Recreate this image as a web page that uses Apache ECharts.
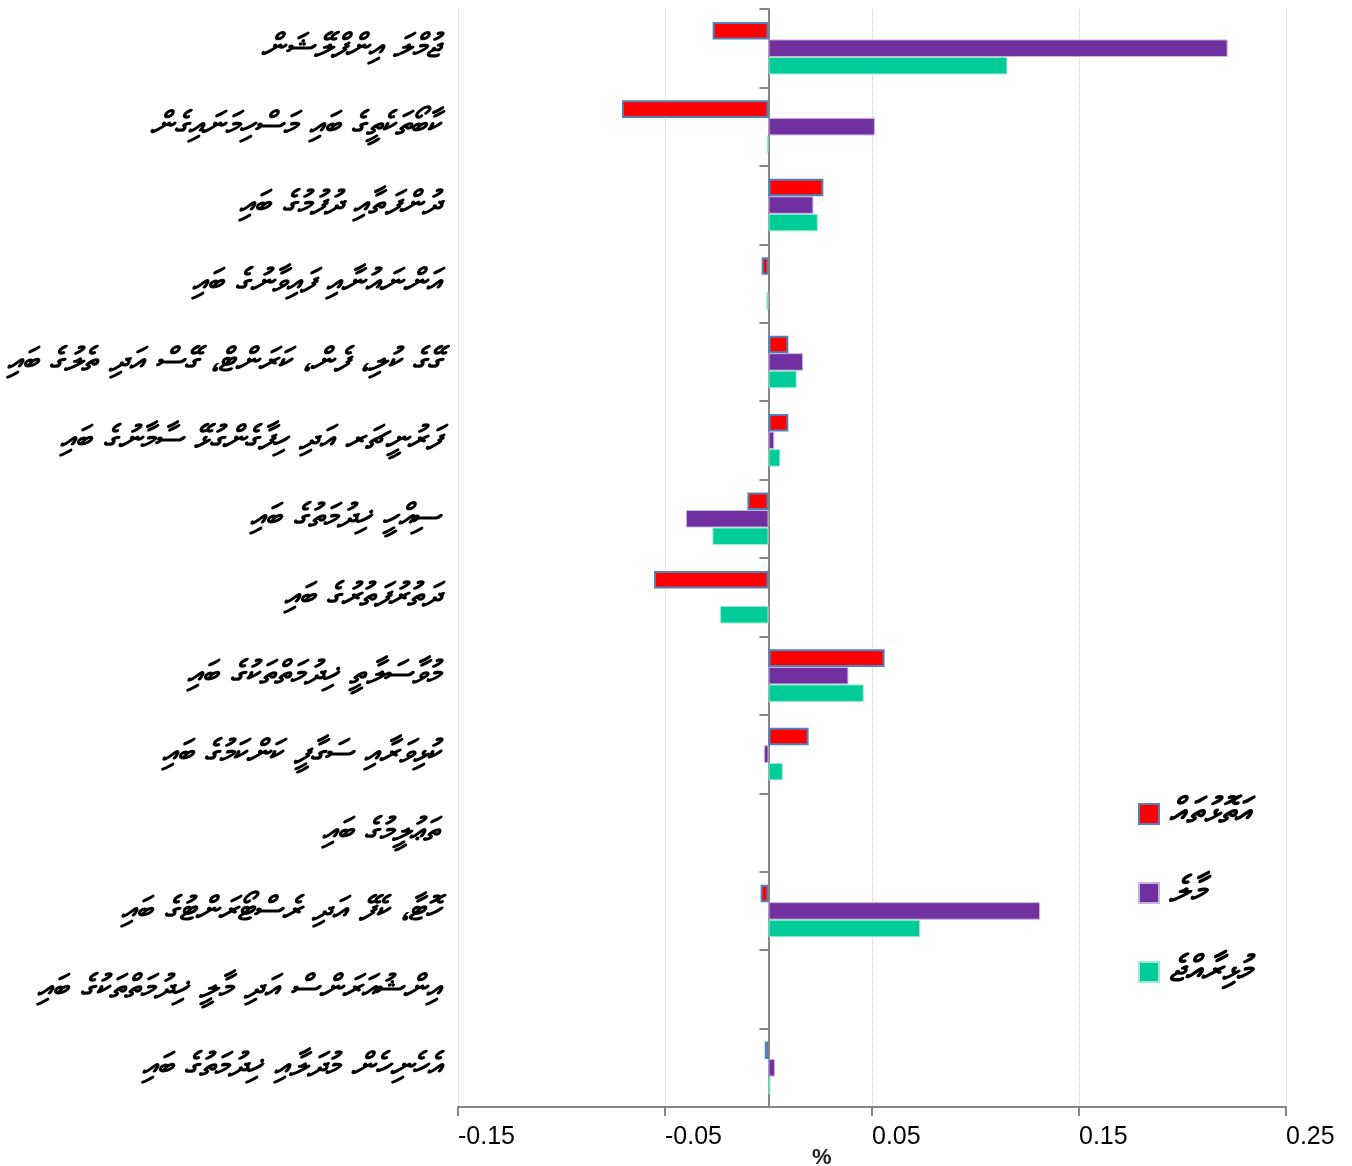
<!DOCTYPE html>
<html><head><meta charset="utf-8">
<script src="https://cdn.jsdelivr.net/npm/echarts@6/dist/echarts.min.js"></script>
<style>html,body{margin:0;padding:0;background:#fff}#c{width:1352px;height:1166px}</style>
</head><body><div id="c"></div>
<script>
// categories, top to bottom
const categories = [
  "ޖުމްލަ އިންފްލޭޝަން",
  "ކާބޯތަކެތީގެ ބައި މަސްހިމަނައިގެން",
  "ދުންފަތާއި ދުފުމުގެ ބައި",
  "އަންނައުނާއި ފައިވާނުގެ ބައި",
  "ގޭގެ ކުލި، ފެން، ކަރަންޓް، ގޭސް އަދި ތެލުގެ ބައި",
  "ފަރުނީޗަރ އަދި ހިފާގެންގުޅޭ ސާމާނުގެ ބައި",
  "ސިއްހީ ޚިދުމަތުގެ ބައި",
  "ދަތުރުފަތުރުގެ ބައި",
  "މުވާސަލާތީ ޚިދުމަތްތަކުގެ ބައި",
  "ކުޅިވަރާއި ސަގާފީ ކަންކަމުގެ ބައި",
  "ތަޢުލީމުގެ ބައި",
  "ހޮޓާ، ކެފޭ އަދި ރެސްޓޯރަންޓުގެ ބައި",
  "އިންޝުއަރަންސް އަދި މާލީ ޚިދުމަތްތަކުގެ ބައި",
  "އެހެނިހެން މުދަލާއި ޚިދުމަތުގެ ބައި"
];
const seriesNames = ["އަތޮޅުތައް", "މާލެ", "މުޅިރާއްޖެ"];
const atolls   = [-0.027, -0.0708, 0.0265, -0.0033, 0.0096, 0.0096, -0.0102, -0.0553, 0.0561, 0.0194, null, -0.0038, null, -0.0018];
const male     = [0.2218, 0.0514, 0.0217, null, 0.0167, 0.0028, -0.0399, null, 0.0386, -0.0022, null, 0.1312, null, 0.0031];
const national = [0.1154, -0.0008, 0.0238, -0.001, 0.0136, 0.0057, -0.0271, -0.0234, 0.046, 0.0069, null, 0.0732, null, 0.001];
const xMin = -0.15, xMax = 0.25, xStep = 0.1;
const axisTitle = "%";

const thaanaFont = "'DejaVu Sans', 'Noto Sans', sans-serif";
const chart = echarts.init(document.getElementById('c'), null, {renderer: 'canvas'});
chart.setOption({
  backgroundColor: '#ffffff',
  animation: false,
  title: {
    text: axisTitle, left: 807, top: 1142,
    textStyle: {fontFamily: "'Liberation Sans', Arial, sans-serif", fontSize: 22, fontWeight: 'bold', color: '#222'}
  },
  legend: {
    orient: 'vertical', left: 1133, top: 791,
    itemWidth: 20, itemHeight: 20, itemGap: 43,
    icon: 'rect',
    textStyle: {fontFamily: thaanaFont, fontSize: 36, fontWeight: 'bold', fontStyle: 'italic', color: '#000', padding: [0, 0, 0, 5]},
    data: seriesNames
  },
  grid: {left: 458, right: 66, top: 9, bottom: 59, containLabel: false},
  xAxis: {
    type: 'value', min: xMin, max: xMax, interval: xStep,
    axisLine: {show: true, onZero: false, lineStyle: {color: '#868686', width: 2}},
    axisTick: {show: true, length: 9, lineStyle: {color: '#868686', width: 2}},
    splitLine: {show: true, lineStyle: {color: '#B9CDE5', type: 'dotted', width: 1}},
    axisLabel: {
      align: 'left', margin: 18, color: '#000',
      fontFamily: "'Liberation Sans Narrow', 'Liberation Sans', sans-serif", fontSize: 25,
      formatter: v => v.toFixed(2)
    }
  },
  yAxis: [
    {
      type: 'category', inverse: true, data: categories,
      axisLine: {show: true, onZero: true, lineStyle: {color: '#868686', width: 2}},
      axisTick: {show: true, length: 9, lineStyle: {color: '#868686', width: 2}},
      axisLabel: {show: false},
      splitLine: {show: false}
    },
    {
      type: 'category', inverse: true, data: categories, position: 'left',
      axisLine: {show: false, onZero: false},
      axisTick: {show: false},
      splitLine: {show: false},
      axisLabel: {
        show: true, margin: 18, color: '#000',
        fontFamily: thaanaFont, fontSize: 33, fontStyle: 'italic', fontWeight: 'bold'
      }
    }
  ],
  series: [
    {name: seriesNames[0], type: 'bar', yAxisIndex: 0, data: atolls,
     barCategoryGap: '33%', barGap: '0%',
     itemStyle: {color: '#FF0000', borderColor: '#4F81BD', borderWidth: 2}},
    {name: seriesNames[1], type: 'bar', yAxisIndex: 0, data: male,
     barCategoryGap: '33%', barGap: '0%',
     itemStyle: {color: '#7030A0', borderColor: '#C5B3DA', borderWidth: 1}},
    {name: seriesNames[2], type: 'bar', yAxisIndex: 0, data: national,
     barCategoryGap: '33%', barGap: '0%',
     itemStyle: {color: '#00CC99', borderColor: '#9FE8D2', borderWidth: 1}}
  ]
});
</script>
</body></html>
